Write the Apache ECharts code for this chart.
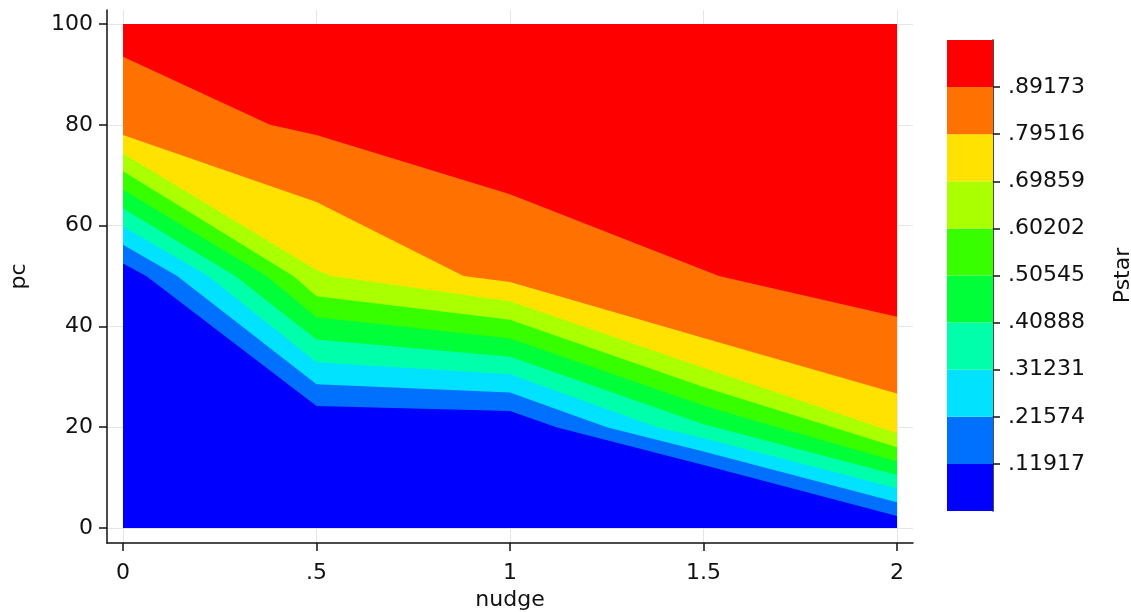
<!DOCTYPE html>
<html>
<head>
<meta charset="utf-8">
<title>Pstar contour</title>
<script src="https://cdn.jsdelivr.net/npm/echarts@6/dist/echarts.min.js"></script>
<style>
html, body { margin: 0; padding: 0; background: #fff; }
#chart { width: 1131px; height: 612px; }
</style>
</head>
<body>
<div id="chart"></div>
<script>
// Pstar contour levels (colour bar tick labels)
var levels = ['.11917', '.21574', '.31231', '.40888', '.50545', '.60202', '.69859', '.79516', '.89173'];
// one colour per band, lowest band first
var bandColors = ['#0000ff', '#0071ff', '#00e2ff', '#00ffaa', '#00ff38', '#38ff00', '#aaff00', '#ffe200', '#ff7100', '#ff0000'];

var nudgeTicks = [0, 0.5, 1, 1.5, 2];
var nudgeLabels = ['0', '.5', '1', '1.5', '2'];
var pcTicks = [0, 20, 40, 60, 80, 100];

// contour lines, [nudge, pc] pairs
var c11917 = [[0, 52.5], [0.06, 50], [0.5, 24.2], [1, 23.2], [1.12, 20], [1.5, 12.5], [2, 2.4]];
var c21574 = [[0, 56.2], [0.14, 50], [0.5, 28.5], [1, 26.9], [1.25, 20], [1.5, 15.2], [2, 5.1]];
var c31231 = [[0, 59.8], [0.22, 50], [0.5, 32.9], [1, 30.5], [1.38, 20], [1.5, 17.8], [2, 7.9]];
var c40888 = [[0, 63.4], [0.29, 50], [0.5, 37.4], [1, 34.0], [1.5, 20.6], [1.53, 20], [2, 10.5]];
var c50545 = [[0, 67.1], [0.37, 50], [0.5, 41.8], [1, 37.6], [1.5, 24.3], [1.69, 20], [2, 13.2]];
var c60202 = [[0, 70.8], [0.44, 50], [0.5, 46.0], [1, 41.3], [1.5, 28.0], [2, 16.0]];
var c69859 = [[0, 74.3], [0.5, 51.2], [0.54, 50], [1, 45.0], [1.5, 31.8], [2, 18.8]];
var c79516 = [[0, 78.0], [0.5, 64.7], [0.88, 50], [1, 48.8], [1.5, 37.7], [2, 26.7]];
var c89173 = [[0, 93.5], [0.38, 80], [0.5, 78.0], [1, 66.2], [1.54, 50], [2, 41.9]];
var pcTop = [[0, 100], [2, 100]];

var contours = [c11917, c21574, c31231, c40888, c50545, c60202, c69859, c79516, c89173, pcTop];

var font = 'DejaVu Sans';
var ink = '#111';

var chart = echarts.init(document.getElementById('chart'));

var series = [];
// fill under each line down to pc = 0, top band first so lower bands cover it
for (var i = contours.length - 1; i >= 0; i--) {
    series.push({
        type: 'line',
        name: i < levels.length ? levels[i] : 'top',
        data: contours[i],
        symbol: 'none',
        silent: true,
        lineStyle: { width: 0 },
        areaStyle: { color: bandColors[i], opacity: 1, origin: 'auto' },
        z: 2
    });
}

// colour bar: one stacked block per band
for (var k = 0; k < bandColors.length; k++) {
    series.push({
        type: 'bar',
        xAxisIndex: 1,
        yAxisIndex: 1,
        stack: 'bar',
        data: [1],
        barWidth: '100%',
        silent: true,
        itemStyle: { color: bandColors[k] }
    });
}

var option = {
    animation: false,
    backgroundColor: '#fff',
    textStyle: { fontFamily: font },
    grid: [
        { left: 107, top: 10, width: 806, height: 533, containLabel: false, outerBoundsMode: 'none' },
        { left: 947, top: 40, width: 46, height: 471, containLabel: false, outerBoundsMode: 'none' }
    ],
    xAxis: [{
        type: 'value',
        gridIndex: 0,
        min: -16 / 387,
        max: 790 / 387,
        name: 'nudge',
        nameLocation: 'middle',
        nameGap: 46,
        nameTextStyle: { fontFamily: font, fontSize: 22, color: ink },
        axisLine: { show: true, onZero: false, lineStyle: { color: ink, width: 1.5 } },
        axisTick: { show: true, length: 8, customValues: nudgeTicks, lineStyle: { color: ink, width: 1.5 } },
        axisLabel: {
            customValues: nudgeTicks,
            margin: 19,
            fontFamily: font,
            fontSize: 22,
            color: ink,
            formatter: function (v) {
                var idx = nudgeTicks.indexOf(v);
                return idx >= 0 ? nudgeLabels[idx] : '';
            }
        },
        splitLine: { show: true, lineStyle: { color: '#e6e6e6', width: 1 } }
    }, {
        type: 'category',
        gridIndex: 1,
        data: ['Pstar'],
        show: false
    }],
    yAxis: [{
        type: 'value',
        gridIndex: 0,
        min: -15 / 5.04,
        max: 518 / 5.04,
        name: 'pc',
        nameLocation: 'middle',
        nameGap: 77,
        nameTextStyle: { fontFamily: font, fontSize: 22, color: ink },
        axisLine: { show: true, onZero: false, lineStyle: { color: ink, width: 1.5 } },
        axisTick: { show: true, length: 8, customValues: pcTicks, lineStyle: { color: ink, width: 1.5 } },
        axisLabel: {
            customValues: pcTicks,
            margin: 14,
            padding: [4, 0, 0, 0],
            fontFamily: font,
            fontSize: 22,
            color: ink
        },
        splitLine: { show: true, lineStyle: { color: '#e6e6e6', width: 1 } }
    }, {
        type: 'value',
        gridIndex: 1,
        position: 'right',
        min: 0,
        max: 10,
        name: 'Pstar',
        nameLocation: 'middle',
        nameRotate: 90,
        nameGap: 119,
        nameTextStyle: { fontFamily: font, fontSize: 22, color: ink },
        axisLine: { show: true, lineStyle: { color: ink, width: 1.5 } },
        axisTick: { show: true, length: 7, customValues: [1, 2, 3, 4, 5, 6, 7, 8, 9], lineStyle: { color: ink, width: 1.5 } },
        axisLabel: {
            customValues: [1, 2, 3, 4, 5, 6, 7, 8, 9],
            margin: 15,
            padding: [4, 0, 0, 0],
            fontFamily: font,
            fontSize: 22,
            color: ink,
            formatter: function (v) { return levels[v - 1] || ''; }
        },
        splitLine: { show: false }
    }],
    series: series
};

chart.setOption(option);
</script>
</body>
</html>
